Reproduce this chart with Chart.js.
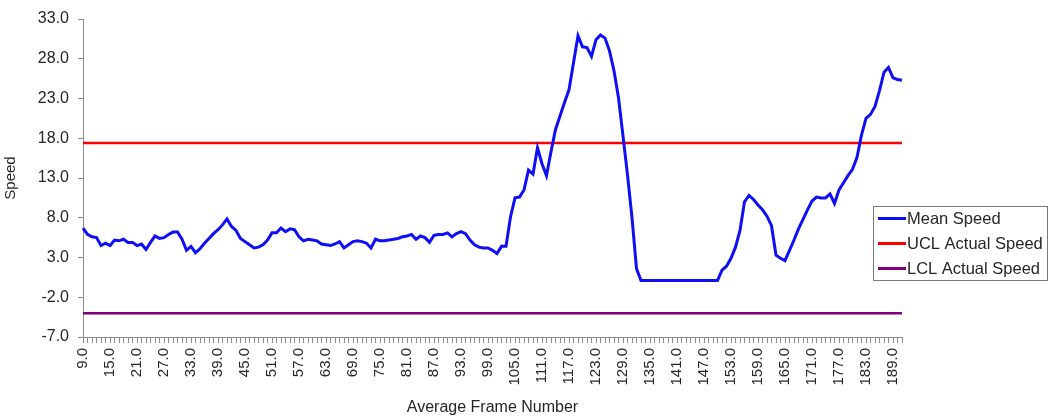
<!DOCTYPE html>
<html>
<head>
<meta charset="utf-8">
<script src="https://cdn.jsdelivr.net/npm/chart.js@4/dist/chart.umd.min.js"></script>
<style>
  html, body { margin: 0; padding: 0; background: #fff; }
  #wrap { width: 1048px; height: 419px; position: relative; }
</style>
</head>
<body>
<div id="wrap"><canvas id="speed-chart"></canvas></div>
<script>
"use strict";
// average frame numbers (categories)
const frames = [
    9, 10, 11, 12, 13, 14, 15, 16, 17, 18, 19, 20, 21, 22, 23, 24, 25, 26, 27, 28,
    29, 30, 31, 32, 33, 34, 35, 36, 37, 38, 39, 40, 41, 42, 43, 44, 45, 46, 47, 48,
    49, 50, 51, 52, 53, 54, 55, 56, 57, 58, 59, 60, 61, 62, 63, 64, 65, 66, 67, 68,
    69, 70, 71, 72, 73, 74, 75, 76, 77, 78, 79, 80, 81, 82, 83, 84, 85, 86, 87, 88,
    89, 90, 91, 92, 93, 94, 95, 96, 97, 98, 99, 100, 101, 102, 103, 104, 105, 106, 107, 108,
    109, 110, 111, 112, 113, 114, 115, 116, 117, 118, 119, 120, 121, 122, 123, 124, 125, 126, 127, 128,
    129, 130, 131, 132, 133, 134, 135, 136, 137, 138, 139, 140, 141, 142, 143, 144, 145, 146, 147, 148,
    149, 150, 151, 152, 153, 154, 155, 156, 157, 158, 159, 160, 161, 162, 163, 164, 165, 166, 167, 168,
    169, 170, 171, 172, 173, 174, 175, 176, 177, 178, 179, 180, 181, 182, 183, 184, 185, 186, 187, 188,
    189, 190, 191
];

// mean speed, one value per frame
const meanSpeed = [
    6.7, 5.9, 5.6, 5.5, 4.5, 4.8, 4.5, 5.2, 5.1, 5.3,
    4.9, 4.9, 4.5, 4.7, 4.0, 4.9, 5.7, 5.4, 5.5, 5.9,
    6.2, 6.2, 5.3, 3.9, 4.4, 3.6, 4.1, 4.8, 5.4, 6.0,
    6.5, 7.1, 7.85, 6.9, 6.4, 5.4, 5.0, 4.6, 4.2, 4.3,
    4.6, 5.2, 6.1, 6.1, 6.7, 6.25, 6.6, 6.5, 5.6, 5.1,
    5.3, 5.2, 5.1, 4.7, 4.6, 4.5, 4.7, 5.0, 4.2, 4.6,
    5.0, 5.1, 5.0, 4.8, 4.2, 5.3, 5.1, 5.1, 5.2, 5.3,
    5.4, 5.6, 5.7, 5.9, 5.3, 5.7, 5.5, 4.9, 5.8, 5.9,
    5.9, 6.1, 5.6, 6.0, 6.25, 6.0, 5.2, 4.6, 4.3, 4.2,
    4.2, 3.9, 3.5, 4.4, 4.4, 8.1, 10.5, 10.6, 11.5, 14.0,
    13.5, 16.8, 14.8, 13.3, 16.3, 19.1, 20.8, 22.5, 24.1, 27.5,
    30.9, 29.5, 29.4, 28.3, 30.4, 31.0, 30.6, 29.0, 26.5, 23.1,
    18.3, 13.4, 8.0, 1.6, 0.1, 0.1, 0.1, 0.1, 0.1, 0.1,
    0.1, 0.1, 0.1, 0.1, 0.1, 0.1, 0.1, 0.1, 0.1, 0.1,
    0.1, 0.1, 1.4, 1.9, 2.9, 4.3, 6.4, 10.0, 10.8, 10.3,
    9.6, 9.0, 8.2, 7.0, 3.3, 2.9, 2.6, 3.9, 5.2, 6.6,
    7.8, 9.0, 10.1, 10.6, 10.5, 10.5, 11.0, 9.8, 11.5, 12.4,
    13.3, 14.1, 15.6, 18.4, 20.5, 21.0, 22.0, 24.0, 26.3, 26.9,
    25.6, 25.4, 25.3
];

// control limits
const uclSpeed = 17.4;
const lclSpeed = -4.0;

// y axis ticks
const yTicks = [-7, -2, 3, 8, 13, 18, 23, 28, 33];
const xLabelStep = 6;

const textColor = '#262626';
const axisColor = '#8c8c8c';
const fontFamily = '"Liberation Sans", Arial, sans-serif';

// legend drawn as a boxed list like the original
const boxLegend = {
    id: 'boxLegend',
    afterDraw(chart) {
        const ctx = chart.ctx;
        const x = 873.5, y = 206.5, w = 174, h = 74;
        ctx.save();
        ctx.strokeStyle = '#7a7a7a';
        ctx.lineWidth = 1;
        ctx.strokeRect(x, y, w, h);
        ctx.font = '16.5px ' + fontFamily;
        ctx.fillStyle = textColor;
        ctx.textBaseline = 'middle';
        chart.data.datasets.forEach(function (ds, i) {
            const ly = 218.5 + i * 25;
            ctx.strokeStyle = ds.borderColor;
            ctx.lineWidth = 3;
            ctx.beginPath();
            ctx.moveTo(878, ly);
            ctx.lineTo(906, ly);
            ctx.stroke();
            ctx.fillText(ds.label, 907, ly + 1);
        });
        ctx.restore();
    }
};

const speedChart = new Chart(document.getElementById('speed-chart'), {
    type: 'line',
    data: {
        labels: frames,
        datasets: [{
                label: 'Mean Speed',
                data: meanSpeed,
                borderColor: 'rgb(15, 15, 245)',
                backgroundColor: 'rgb(15, 15, 245)',
                borderWidth: 3,
            }, {
                label: 'UCL Actual Speed',
                data: frames.map(() => uclSpeed),
                borderColor: 'rgb(255, 0, 0)',
                backgroundColor: 'rgb(255, 0, 0)',
                borderWidth: 2.5,
            }, {
                label: 'LCL Actual Speed',
                data: frames.map(() => lclSpeed),
                borderColor: 'rgb(128, 0, 128)',
                backgroundColor: 'rgb(128, 0, 128)',
                borderWidth: 2.5,
            }],
    },
    options: {
        responsive: true,
        maintainAspectRatio: false,
        animation: false,
        layout: {
            padding: { top: 19, right: 146, left: 0, bottom: 0 },
        },
        elements: {
            point: { radius: 0 },
            line: { tension: 0 },
        },
        plugins: {
            legend: { display: false },
            tooltip: { enabled: false },
        },
        scales: {
            x: {
                type: 'category',
                offset: false,
                afterFit: function (scale) { scale.height = 82; },
                grid: {
                    drawOnChartArea: false,
                    drawTicks: true,
                    tickLength: 6,
                    color: axisColor,
                },
                border: { color: axisColor, width: 1 },
                ticks: {
                    autoSkip: false,
                    maxRotation: 90,
                    minRotation: 90,
                    padding: 5,
                    color: textColor,
                    font: { family: fontFamily, size: 15 },
                    callback: function (value, index) {
                        return index % xLabelStep === 0 ? Number(frames[index]).toFixed(1) : '';
                    },
                },
                title: {
                    display: true,
                    text: 'Average Frame Number',
                    color: textColor,
                    font: { family: fontFamily, size: 16 },
                    padding: { top: 0, bottom: 2 },
                },
            },
            y: {
                min: yTicks[0],
                max: yTicks[yTicks.length - 1],
                afterFit: function (scale) { scale.width = 83; },
                afterBuildTicks: function (scale) {
                    scale.ticks = yTicks.map(v => ({ value: v }));
                },
                grid: {
                    drawOnChartArea: false,
                    drawTicks: true,
                    tickLength: 5,
                    color: axisColor,
                },
                border: { color: axisColor, width: 1 },
                ticks: {
                    padding: 9,
                    color: textColor,
                    font: { family: fontFamily, size: 16 },
                    callback: function (value) { return Number(value).toFixed(1); },
                },
                title: {
                    display: true,
                    text: 'Speed',
                    color: textColor,
                    font: { family: fontFamily, size: 15 },
                    padding: { top: 2, bottom: 0 },
                },
            },
        },
    },
    plugins: [boxLegend],
});
</script>
</body>
</html>
